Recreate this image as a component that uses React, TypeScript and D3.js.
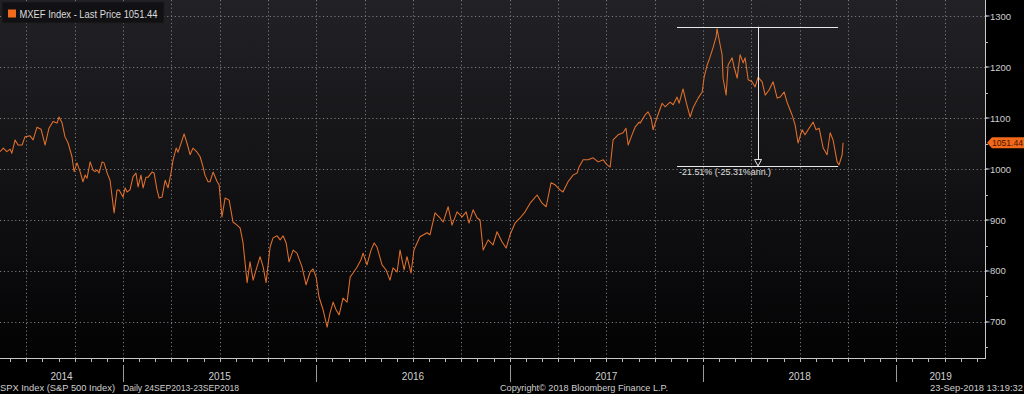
import React from "react";
import * as d3 from "d3";

// decimal-year time stamps
const TIMES = [
  2014.364, 2014.381, 2014.399, 2014.416, 2014.425, 2014.442, 2014.457, 2014.478, 2014.493, 2014.519,
  2014.535, 2014.555, 2014.576, 2014.597, 2014.617, 2014.638, 2014.659, 2014.669, 2014.685, 2014.7,
  2014.716, 2014.736, 2014.747, 2014.762, 2014.778, 2014.793, 2014.804, 2014.814, 2014.83, 2014.845,
  2014.855, 2014.866, 2014.876, 2014.892, 2014.902, 2014.918, 2014.933, 2014.954, 2014.969, 2014.98,
  2015.0, 2015.011, 2015.021, 2015.036, 2015.052, 2015.067, 2015.078, 2015.093, 2015.104, 2015.119,
  2015.13, 2015.15, 2015.161, 2015.176, 2015.187, 2015.202, 2015.218, 2015.233, 2015.249, 2015.259,
  2015.275, 2015.285, 2015.306, 2015.316, 2015.331, 2015.347, 2015.362, 2015.383, 2015.399, 2015.414,
  2015.424, 2015.44, 2015.45, 2015.466, 2015.487, 2015.497, 2015.512, 2015.528, 2015.549, 2015.569,
  2015.59, 2015.606, 2015.621, 2015.642, 2015.657, 2015.673, 2015.693, 2015.709, 2015.725, 2015.74,
  2015.761, 2015.776, 2015.797, 2015.813, 2015.828, 2015.844, 2015.859, 2015.88, 2015.9, 2015.926,
  2015.947, 2015.968, 2015.983, 2015.999, 2016.014, 2016.035, 2016.056, 2016.071, 2016.087, 2016.102,
  2016.118, 2016.138, 2016.159, 2016.175, 2016.19, 2016.211, 2016.231, 2016.242, 2016.262, 2016.283,
  2016.299, 2016.314, 2016.34, 2016.361, 2016.381, 2016.397, 2016.418, 2016.433, 2016.454, 2016.469,
  2016.49, 2016.505, 2016.536, 2016.573, 2016.588, 2016.614, 2016.64, 2016.656, 2016.682, 2016.702,
  2016.728, 2016.754, 2016.775, 2016.79, 2016.811, 2016.832, 2016.847, 2016.863, 2016.889, 2016.914,
  2016.935, 2016.961, 2016.982, 2017.002, 2017.028, 2017.054, 2017.08, 2017.106, 2017.142, 2017.168,
  2017.189, 2017.214, 2017.235, 2017.261, 2017.276, 2017.302, 2017.328, 2017.349, 2017.359, 2017.38,
  2017.406, 2017.432, 2017.458, 2017.484, 2017.504, 2017.52, 2017.535, 2017.561, 2017.587, 2017.602,
  2017.613, 2017.633, 2017.649, 2017.67, 2017.675, 2017.701, 2017.716, 2017.732, 2017.742, 2017.763,
  2017.789, 2017.804, 2017.83, 2017.846, 2017.866, 2017.877, 2017.897, 2017.913, 2017.934, 2017.949,
  2017.975, 2017.996, 2018.006, 2018.022, 2018.037, 2018.053, 2018.068, 2018.073, 2018.084, 2018.099,
  2018.104, 2018.12, 2018.13, 2018.151, 2018.161, 2018.177, 2018.192, 2018.208, 2018.218, 2018.234,
  2018.254, 2018.27, 2018.285, 2018.306, 2018.322, 2018.342, 2018.363, 2018.384, 2018.399, 2018.42,
  2018.435, 2018.461, 2018.477, 2018.492, 2018.513, 2018.528, 2018.544, 2018.57, 2018.585, 2018.601,
  2018.622, 2018.642, 2018.658, 2018.673, 2018.694, 2018.704, 2018.72, 2018.725,
];

// MXEF Index last price
const VALUES = [
  1034, 1041, 1034, 1039, 1031, 1057, 1047, 1047, 1063, 1065,
  1057, 1082, 1078, 1047, 1080, 1093, 1090, 1102, 1090, 1063,
  1051, 1024, 995, 1012, 995, 975, 988, 982, 1014, 998,
  995, 998, 992, 1014, 1012, 992, 978, 914, 959, 959,
  945, 963, 955, 959, 985, 992, 965, 988, 963, 984,
  984, 994, 992, 959, 943, 945, 978, 963, 994, 1018,
  1041, 1033, 1057, 1069, 1051, 1028, 1041, 1033, 1024, 1004,
  988, 975, 975, 994, 975, 969, 906, 943, 939, 896,
  890, 884, 855, 777, 818, 782, 808, 828, 808, 777,
  847, 865, 869, 861, 869, 855, 818, 841, 835, 808,
  773, 798, 804, 788, 749, 724, 690, 718, 739, 724,
  714, 747, 739, 788, 796, 808, 822, 835, 812, 841,
  855, 847, 812, 802, 782, 806, 798, 841, 802, 828,
  796, 841, 867, 875, 871, 914, 904, 896, 926, 890,
  916, 906, 916, 894, 920, 904, 900, 841, 861, 851,
  877, 857, 845, 871, 894, 904, 916, 933, 949, 933,
  926, 973, 969, 959, 955, 975, 988, 992, 1004, 1018,
  1018, 1022, 1014, 1018, 1008, 1004, 1057, 1067, 1071, 1080,
  1047, 1067, 1082, 1092, 1090, 1106, 1112, 1100, 1077, 1102,
  1129, 1122, 1131, 1126, 1141, 1129, 1157, 1131, 1102, 1120,
  1139, 1151, 1180, 1204, 1220, 1239, 1259, 1275, 1253, 1224,
  1178, 1145, 1204, 1218, 1200, 1178, 1224, 1208, 1218, 1175,
  1171, 1161, 1180, 1171, 1145, 1155, 1171, 1139, 1141, 1151,
  1131, 1106, 1086, 1051, 1077, 1067, 1077, 1092, 1077, 1080,
  1041, 1028, 1071, 1057, 1014, 1008, 1028, 1051.44,
];

const Y_TICKS = [700, 800, 900, 1000, 1100, 1200, 1300];
const Y_MINOR = [650, 750, 850, 950, 1050, 1150, 1250];
const YEARS = [2014, 2015, 2016, 2017, 2018, 2019];
const LAST_PRICE = 1051.44;

// drawdown annotation
const DD_HIGH = 1279;
const DD_LOW = 1005;
const DD_START = 2017.866;
const DD_END = 2018.699;
const DD_MARK = 2018.285;
const DD_TEXT = "-21.51% (-25.31%ann.)";

const LEGEND_TEXT = "MXEF Index - Last Price 1051.44";
const FOOT_LEFT_1 = "SPX Index (S&P 500 Index)";
const FOOT_LEFT_2 = "Daily 24SEP2013-23SEP2018";
const FOOT_MID = "Copyright\u00A9 2018 Bloomberg Finance L.P.";
const FOOT_RIGHT = "23-Sep-2018 13:19:32";

const W = 1024;
const H = 394;
const PL = 0;
const PR = 985;
const PT = 0;
const PB = 358;
const FONT = "'Liberation Sans', Arial, sans-serif";

export default function App() {
  const x = d3.scaleLinear().domain([2014.3637, 2019.459]).range([PL, PR]);
  const y = d3.scaleLinear().domain([629.4, 1331.4]).range([PB, PT]);

  const data = TIMES.map((t, i) => [t, VALUES[i]] as [number, number]);
  const line = d3
    .line<[number, number]>()
    .x((d) => x(d[0]))
    .y((d) => y(d[1]));

  const [t0, t1] = x.domain();
  const quarters: number[] = [];
  const months: number[] = [];
  for (let yr = 2014; yr <= 2019; yr++) {
    for (let m = 0; m < 12; m++) {
      const t = yr + m / 12;
      if (t > t0 && t < t1) months.push(t);
      if (m % 3 === 0 && t > t0 && t < t1) quarters.push(yr + m / 12);
    }
  }

  const gridColor = "#7a7a7e";
  const yLast = y(LAST_PRICE);

  return (
    <svg
      width={W}
      height={H}
      style={{ position: "absolute", left: 0, top: 0, background: "#000" }}
    >
      <defs>
        <linearGradient id="bg" x1="0" y1="0" x2="0" y2="1">
          <stop offset="0%" stopColor="#222226" />
          <stop offset="100%" stopColor="#030304" />
        </linearGradient>
        <clipPath id="plotclip">
          <rect x={PL} y={PT} width={PR - PL} height={PB - PT} />
        </clipPath>
      </defs>
      <rect x={0} y={0} width={W} height={H} fill="#000" />
      <rect x={PL} y={PT} width={PR - PL} height={PB - PT} fill="url(#bg)" />

      {/* grid */}
      <g stroke={gridColor} strokeWidth={1} strokeDasharray="1.2 2.6">
        {Y_TICKS.map((v) => (
          <line key={"hy" + v} x1={PL} x2={PR} y1={Math.round(y(v)) + 0.5} y2={Math.round(y(v)) + 0.5} />
        ))}
        {quarters.map((t) => (
          <line key={"vq" + t} x1={Math.round(x(t)) + 0.5} x2={Math.round(x(t)) + 0.5} y1={PT} y2={PB} />
        ))}
      </g>

      {/* series */}
      <g clipPath="url(#plotclip)">
        <path d={line(data) || ""} fill="none" stroke="#e2702c" strokeWidth={1.05} strokeLinejoin="round" />
      </g>

      {/* drawdown annotation */}
      <g stroke="#e8e8e8" strokeWidth={1} fill="none">
        <line x1={x(DD_START)} x2={x(DD_END)} y1={Math.round(y(DD_HIGH)) + 0.5} y2={Math.round(y(DD_HIGH)) + 0.5} />
        <line x1={x(DD_START)} x2={x(DD_END)} y1={Math.round(y(DD_LOW)) + 0.5} y2={Math.round(y(DD_LOW)) + 0.5} />
        <line x1={Math.round(x(DD_MARK)) + 0.5} x2={Math.round(x(DD_MARK)) + 0.5} y1={y(DD_HIGH)} y2={y(DD_LOW) - 7} />
        <path
          d={`M${x(DD_MARK) - 3.5},${y(DD_LOW) - 7} L${x(DD_MARK) + 3.5},${y(DD_LOW) - 7} L${x(DD_MARK)},${y(DD_LOW) - 0.5} Z`}
          fill="#111"
        />
      </g>
      <text x={x(DD_START) + 2} y={y(DD_LOW) + 9} fill="#e0e0e0" fontSize={9} fontFamily={FONT} textLength={92} lengthAdjust="spacingAndGlyphs">
        {DD_TEXT}
      </text>

      {/* legend */}
      <rect x={2} y={2} width={162} height={21} fill="#111113" stroke="#1c1c1f" />
      <rect x={8} y={9.5} width={8} height={8} fill="#f26a1b" />
      <text x={19.5} y={17.5} fill="#dcdcdc" fontSize={10} fontFamily={FONT} textLength={138} lengthAdjust="spacingAndGlyphs">
        {LEGEND_TEXT}
      </text>

      {/* right axis */}
      <line x1={PR + 0.5} x2={PR + 0.5} y1={PT} y2={PB} stroke="#c8c8c8" />
      {Y_TICKS.map((v) => (
        <g key={"yt" + v}>
          <path d={`M${PR},${y(v) - 1} L${PR + 6},${y(v)} L${PR},${y(v) + 1} Z`} fill="#d0d0d0" />
          <text x={PR + 5} y={y(v) + 3.5} fill="#cfcfcf" fontSize={9.5} fontFamily={FONT}>
            {v}
          </text>
        </g>
      ))}
      {Y_MINOR.map((v) => (
        <line key={"ym" + v} x1={PR} x2={PR + 3} y1={Math.round(y(v)) + 0.5} y2={Math.round(y(v)) + 0.5} stroke="#bbb" />
      ))}

      {/* last price tag */}
      <path
        d={`M${PR + 2},${yLast} L${PR + 7},${yLast - 5.5} L${W},${yLast - 5.5} L${W},${yLast + 5.5} L${PR + 7},${yLast + 5.5} Z`}
        fill="#f06a1a"
      />
      <text x={PR + 7} y={yLast + 3.3} fill="#4a1200" fontSize={9} fontFamily={FONT} textLength={31} lengthAdjust="spacingAndGlyphs">
        {LAST_PRICE.toFixed(2)}
      </text>

      {/* bottom axis */}
      <line x1={PL} x2={PR + 1} y1={PB + 0.5} y2={PB + 0.5} stroke="#c8c8c8" />
      {months.map((t) => (
        <line key={"mt" + t} x1={Math.round(x(t)) + 0.5} x2={Math.round(x(t)) + 0.5} y1={PB} y2={PB + 4} stroke="#bbb" />
      ))}
      {YEARS.map((yr) => {
        const a = Math.max(x(yr), PL);
        const b = Math.min(x(yr + 1), PR);
        const sep = x(yr);
        return (
          <g key={"yr" + yr}>
            {sep > PL && sep < PR && (
              <line x1={Math.round(sep) + 0.5} x2={Math.round(sep) + 0.5} y1={PB + 7} y2={PB + 24} stroke="#9a9a9a" />
            )}
            <text x={(a + b) / 2} y={PB + 21.5} fill="#d0d0d0" fontSize={10} fontFamily={FONT} textAnchor="middle">
              {yr}
            </text>
          </g>
        );
      })}

      {/* footer */}
      <text x={0} y={391} fill="#d0d0d0" fontSize={9.5} fontFamily={FONT} textLength={115} lengthAdjust="spacingAndGlyphs">
        {FOOT_LEFT_1}
      </text>
      <text x={123} y={391} fill="#d0d0d0" fontSize={9.5} fontFamily={FONT} textLength={116} lengthAdjust="spacingAndGlyphs">
        {FOOT_LEFT_2}
      </text>
      <text x={500} y={391} fill="#d0d0d0" fontSize={9.5} fontFamily={FONT} textLength={168} lengthAdjust="spacingAndGlyphs">
        {FOOT_MID}
      </text>
      <text x={930} y={391} fill="#d0d0d0" fontSize={9.5} fontFamily={FONT} textLength={93} lengthAdjust="spacingAndGlyphs">
        {FOOT_RIGHT}
      </text>
    </svg>
  );
}
